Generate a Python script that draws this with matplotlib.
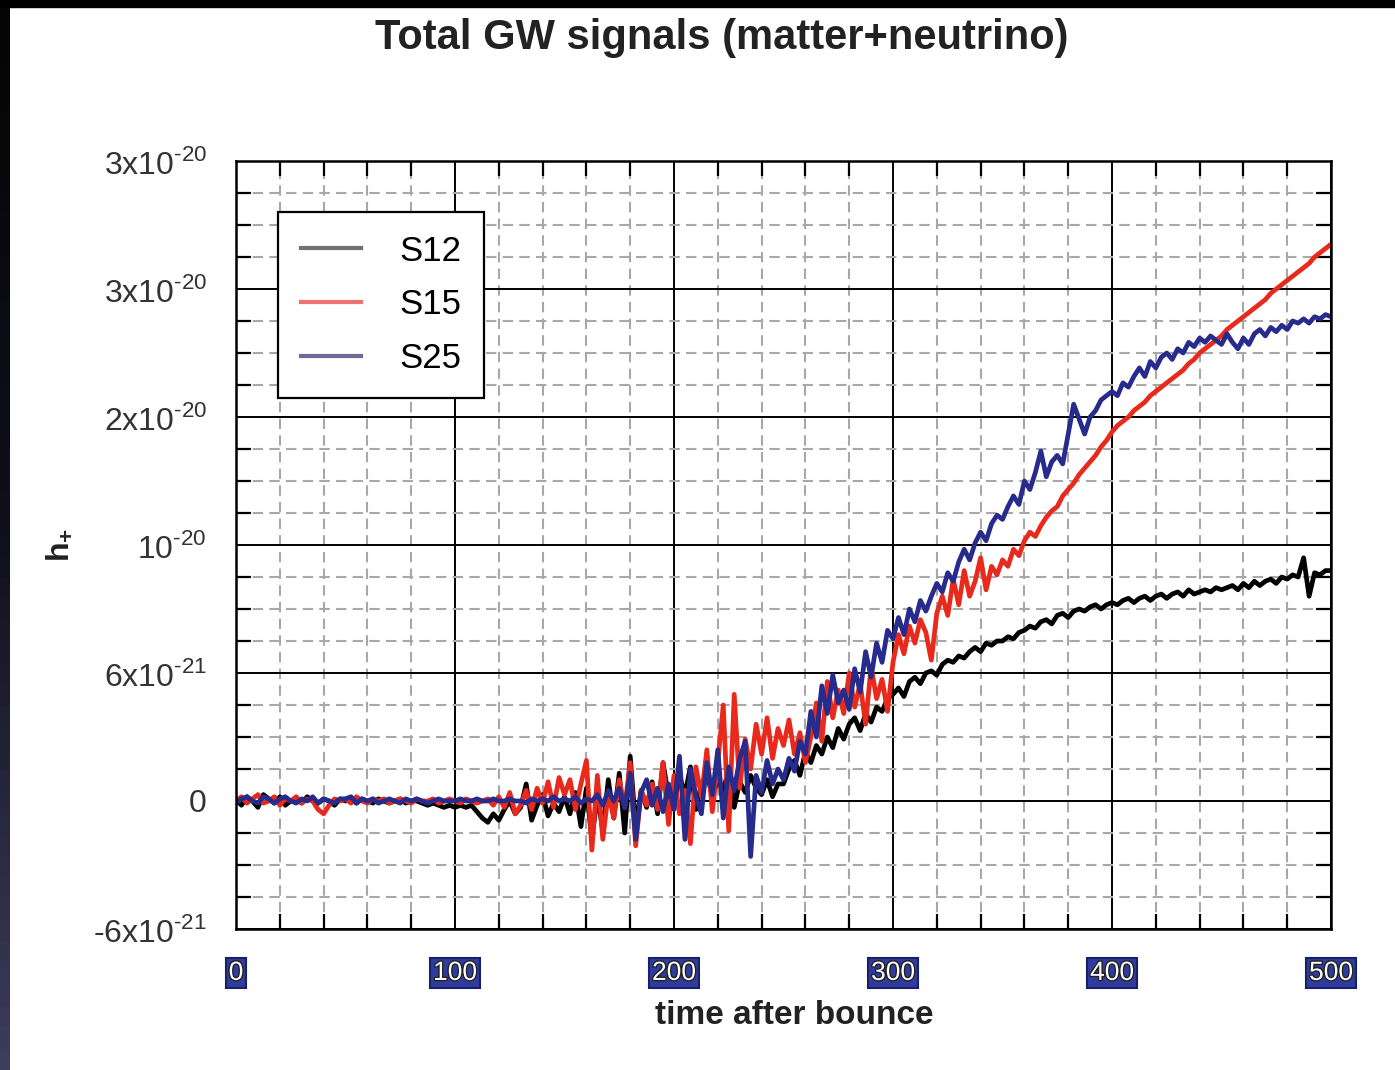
import numpy as np
import matplotlib
matplotlib.use('Agg')
import matplotlib.pyplot as plt
import matplotlib.patheffects as pe
from matplotlib.ticker import MultipleLocator, FixedLocator

plt.rcParams['font.family'] = ['Liberation Sans', 'DejaVu Sans']
plt.rcParams['mathtext.fontset'] = 'custom'
plt.rcParams['mathtext.rm'] = 'Liberation Sans'
plt.rcParams['mathtext.bf'] = 'Liberation Sans:bold'

# time after bounce [ms], sampled every 2.5 ms
t = np.arange(0, 500.1, 2.5)

# h+ in units of 1e-21
s12 = [0.1, -0.2, 0.2, 0.0, -0.3, 0.3, 0.1, -0.1, 0.2, -0.2, 0.0, 0.1, -0.1, 0.2, 0.0, -0.1, 0.1, 0.0, -0.2, 0.1,
       0.0, 0.1, -0.1, 0.1, 0.0, -0.1, 0.1, 0.0, -0.1, 0.0, 0.1, -0.1, 0.0, 0.0, -0.1, -0.2, -0.1, -0.2, -0.3, -0.2,
       -0.3, -0.2, -0.3, -0.2, -0.5, -0.8, -1.0, -0.6, -0.9, -0.4, 0.0, -0.6, -0.3, 0.8, -0.9, -0.2, 0.3, -0.7, -0.1, -0.5,
       0.2, -0.6, 0.4, -1.2, 0.6, -1.8, 0.3, -1.4, 1.0, -0.8, 1.3, -1.5, 2.1, -1.2, 0.5, -0.3, 0.9, -0.6, 1.8, 0.2,
       -0.2, 1.2, 0.3, 1.6, -0.4, 0.8, 1.3, 0.2, 1.0, 0.5, 1.5, -0.3, 0.9, 0.4, 1.2, 0.6, 0.3, 1.0, 0.2, 0.8,
       0.8, 1.5, 1.9, 1.2, 2.3, 1.8, 2.6, 2.2, 3.0, 2.5, 3.4, 2.9, 3.6, 3.9, 3.3, 4.1, 3.7, 4.4, 4.2, 4.8,
       5.0, 5.3, 4.9, 5.6, 5.8, 5.5, 6.0, 6.1, 5.9, 6.4, 6.6, 6.5, 6.8, 6.7, 7.0, 7.2, 7.0, 7.4, 7.3, 7.5,
       7.5, 7.7, 7.6, 7.9, 8.0, 8.2, 8.1, 8.4, 8.5, 8.3, 8.7, 8.8, 8.6, 8.9, 9.0, 8.9, 9.1, 9.2, 9.0, 9.2,
       9.3, 9.2, 9.4, 9.5, 9.3, 9.5, 9.6, 9.4, 9.6, 9.7, 9.5, 9.7, 9.8, 9.6, 9.9, 9.7, 9.8, 9.9, 9.8, 10.0,
       9.9, 10.0, 10.1, 9.9, 10.2, 10.0, 10.3, 10.1, 10.3, 10.4, 10.2, 10.5, 10.4, 10.6, 10.5, 11.4, 9.6, 10.7, 10.6, 10.8,
       10.8]

s15 = [0.0, 0.2, -0.1, 0.1, 0.3, -0.1, 0.0, 0.2, -0.2, 0.1, 0.0, 0.2, -0.1, 0.1, 0.0, -0.4, -0.6, -0.2, 0.1, 0.0,
       0.1, -0.1, 0.2, 0.0, -0.1, 0.1, 0.0, 0.1, -0.1, 0.0, 0.1, 0.0, -0.1, 0.1, 0.0, 0.0, 0.1, -0.1, 0.0, 0.1,
       0.0, -0.1, 0.1, 0.0, -0.1, 0.0, 0.1, -0.2, 0.2, -0.3, 0.4, -0.6, -0.2, 0.5, -0.4, 0.6, -0.1, 0.9, -0.3, 1.1,
       0.3, 1.0, -0.4, 0.8, 1.9, -2.3, 1.2, -1.8, 0.4, -0.8, 1.0, -0.3, 1.8, -2.1, 0.5, -0.2, 0.8, -0.4, 1.8, -1.1,
       1.2, -0.6, 0.5, -2.0, 1.6, 0.2, 2.4, -0.5, 1.8, 4.5, -1.4, 5.0, 0.6, 2.9, 1.5, 3.6, 2.2, 3.9, 2.0, 3.4,
       2.6, 3.8, 2.2, 3.2, 1.8, 3.0, 4.6, 2.8, 5.6, 3.9, 5.2, 4.1, 6.0, 4.4, 5.5, 3.6, 6.3, 4.8, 5.7, 4.2,
       6.5, 7.8, 6.9, 8.2, 7.4, 8.5, 7.9, 6.6, 8.8, 9.6, 8.7, 10.4, 9.2, 10.8, 9.6, 10.3, 11.4, 9.9, 11.0, 10.6,
       11.3, 11.0, 11.8, 11.5, 12.2, 12.6, 12.4, 12.9, 13.3, 13.6, 13.8, 14.3, 14.6, 14.9, 15.3, 15.6, 15.9, 16.2, 16.6, 16.9,
       17.3, 17.6, 17.8, 18.0, 18.3, 18.5, 18.7, 19.0, 19.2, 19.4, 19.6, 19.8, 20.0, 20.2, 20.5, 20.7, 21.0, 21.2, 21.4, 21.6,
       21.8, 22.1, 22.3, 22.5, 22.7, 22.9, 23.1, 23.3, 23.5, 23.8, 24.0, 24.2, 24.4, 24.6, 24.8, 25.0, 25.2, 25.5, 25.7, 25.9,
       26.1]

s25 = [-0.1, 0.1, 0.2, 0.0, -0.1, 0.2, 0.1, -0.1, 0.1, 0.2, 0.0, -0.1, 0.1, 0.0, 0.2, -0.1, 0.1, 0.0, -0.1, 0.1,
       0.1, 0.2, -0.1, 0.1, 0.0, 0.1, -0.1, 0.0, 0.1, 0.0, -0.1, 0.1, 0.0, 0.1, 0.0, -0.1, 0.0, 0.1, 0.0, 0.0,
       0.0, 0.1, 0.0, 0.0, 0.1, 0.0, 0.0, 0.1, 0.0, 0.0, 0.1, 0.0, 0.0, -0.1, 0.1, 0.0, 0.1, 0.0, 0.2, 0.0,
       0.1, 0.0, 0.2, -0.1, 0.1, 0.0, 0.3, -0.2, 0.5, 0.0, 0.6, -0.3, 1.3, -1.8, 0.4, 1.0, -0.2, 0.6, -0.5, 0.8,
       -0.4, 2.1, -1.8, 1.5, 0.2, -0.6, 1.8, 0.3, 2.4, -0.8, 1.6, 0.5, 2.0, 2.8, -2.6, 1.2, 0.4, 1.9, 0.8, 1.5,
       1.0, 2.0, 1.4, 2.8, 2.2, 4.2, 3.0, 5.4, 4.1, 5.9, 4.6, 5.2, 4.3, 6.2, 5.1, 7.0, 5.8, 7.4, 6.5, 8.0,
       7.6, 8.6, 7.8, 9.0, 8.4, 9.4, 8.9, 9.6, 10.2, 9.8, 10.7, 10.3, 11.2, 11.8, 11.3, 12.1, 12.6, 12.2, 13.0, 13.4,
       13.2, 13.8, 14.3, 13.9, 15.0, 14.6, 15.4, 16.4, 15.2, 15.9, 16.2, 15.8, 17.2, 18.6, 17.9, 17.2, 18.0, 18.3, 18.8, 19.0,
       19.2, 19.0, 19.6, 19.4, 19.9, 20.3, 19.9, 20.6, 20.3, 20.8, 21.0, 20.7, 21.2, 21.0, 21.5, 21.3, 21.7, 21.5, 21.8, 21.6,
       21.4, 21.9, 21.5, 21.2, 21.7, 21.4, 21.9, 22.1, 21.8, 22.2, 22.0, 22.3, 22.1, 22.5, 22.4, 22.6, 22.4, 22.7, 22.6, 22.8,
       22.7]

series_names = ['S12', 'S15', 'S25']
line_colors = ['#000000', '#e8291c', '#262b8c']
legend_colors = ['#707070', '#f07272', '#6c6c9c']

x_ticks = [0, 100, 200, 300, 400, 500]
x_tick_labels = ['0', '100', '200', '300', '400', '500']
y_ticks = [-6, 0, 6, 12, 18, 24, 30]
# hyphen (U+2010) so mathtext keeps the short dash of the original
y_tick_labels = ['\u20106x10$^{\\mathregular{\u201021}}$', '0', '6x10$^{\\mathregular{\u201021}}$',
                 '10$^{\\mathregular{\u201020}}$', '2x10$^{\\mathregular{\u201020}}$',
                 '3x10$^{\\mathregular{\u201020}}$', '3x10$^{\\mathregular{\u201020}}$']

fig = plt.figure(figsize=(13.95, 10.70), dpi=100)

# dark strips at the top and left edge of the screenshot
fig.patches.append(plt.Rectangle((0, 1 - 7 / 1070), 1, 7 / 1070, transform=fig.transFigure, color='black', zorder=0))
edge = fig.add_axes([0, 0, 10 / 1395, 1])
edge.imshow(np.linspace(0, 1, 50).reshape(-1, 1), aspect='auto',
            cmap=matplotlib.colors.LinearSegmentedColormap.from_list('e', ['#050505', '#10101c', '#3c3c5c']))
edge.axis('off')

ax = fig.add_axes([236 / 1395, 1 - 929 / 1070, 1095 / 1395, 768 / 1070])

for vals, name, col in zip([s12, s15, s25], series_names, line_colors):
    ax.plot(t, vals, color=col, lw=3.4, label=name)

ax.set_xlim(0, 500)
ax.set_ylim(-6, 30)
ax.xaxis.set_major_locator(FixedLocator(x_ticks))
ax.xaxis.set_minor_locator(MultipleLocator(20))
ax.yaxis.set_major_locator(FixedLocator(y_ticks))
ax.yaxis.set_minor_locator(MultipleLocator(1.5))
ax.set_xticklabels(x_tick_labels)
ax.set_yticklabels(y_tick_labels)

ax.grid(which='minor', color='#a8a8a8', ls=(0, (5, 3)), lw=1.5, zorder=0)
ax.grid(which='major', color='black', ls='-', lw=1.4, zorder=0)
ax.set_axisbelow(True)

ax.tick_params(which='major', length=0, labelsize=23, labelcolor='#333333')
ax.tick_params(axis='y', which='major', pad=21)
ax.tick_params(axis='x', which='major', pad=23, labelsize=19)
ax.tick_params(which='minor', direction='in', length=11, width=1.6, top=True, right=True, color='black')
for s in ax.spines.values():
    s.set_linewidth(1.8)

for lab in ax.get_xticklabels():
    lab.set_color('white')
    lab.set_bbox(dict(boxstyle='square,pad=0.12', fc='#2f3c9e', ec='#18206a', lw=1.5))
    lab.set_path_effects([pe.withStroke(linewidth=2, foreground='#222222')])

leg = ax.legend(loc='upper left', bbox_to_anchor=(0.0384, 0.9336), fontsize=25, frameon=True, fancybox=False,
                edgecolor='black', framealpha=1, handlelength=1.75, handletextpad=1.1, labelspacing=0.6,
                borderpad=0.65, borderaxespad=0)
leg.get_frame().set_linewidth(1.6)
for ln, c in zip(leg.get_lines(), legend_colors):
    ln.set_color(c)
    ln.set_linewidth(3)

fig.text(722 / 1395, 1 - 38 / 1070, 'Total GW signals (matter+neutrino)', ha='center', va='center',
         fontsize=30, fontweight='bold', color='#222222')
fig.text(794 / 1395, 1 - 1016 / 1070, 'time after bounce', ha='center', va='center',
         fontsize=24, fontweight='bold', color='#222222')
fig.text(60 / 1395, 1 - 545 / 1070, r'h$_\mathbf{+}$', ha='center', va='center', rotation=90,
         fontsize=23, fontweight='bold', color='#222222')

fig.savefig('out.png', dpi=100)
